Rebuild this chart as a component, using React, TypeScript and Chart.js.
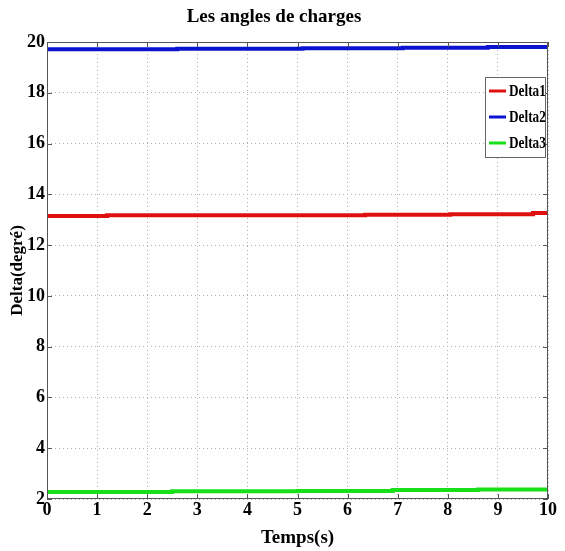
import React, { useEffect, useRef } from "react";
import { Chart, registerables } from "chart.js";

Chart.register(...registerables);

const chartTitle = "Les angles de charges";
const xTitle = "Temps(s)";
const yTitle = "Delta(degré)";
const yTicks = [2, 4, 6, 8, 10, 12, 14, 16, 18, 20];

const delta1Time = [0, 1.2, 6.35, 8.05, 9.7, 10];
const delta1Values = [13.15, 13.18, 13.2, 13.22, 13.26, 13.26];
const delta2Time = [0, 2.6, 5.1, 7.1, 8.8, 10];
const delta2Values = [19.71, 19.73, 19.75, 19.77, 19.8, 19.8];
const delta3Time = [0, 2.5, 5.0, 6.9, 8.6, 10];
const delta3Values = [2.28, 2.31, 2.32, 2.35, 2.37, 2.37];

const seriesNames = ["Delta1", "Delta2", "Delta3"];
const seriesColors = ["#e01010", "#0a14d0", "#18e018"];

const FONT = "'Liberation Serif', 'Times New Roman', serif";

const frame = {
  id: "frame",
  afterDraw(chart: any) {
    const { ctx, chartArea } = chart;
    const { left, right, top, bottom } = chartArea;
    ctx.save();
    ctx.strokeStyle = "#555";
    ctx.lineWidth = 1;
    ctx.strokeRect(left + 0.5, top + 0.5, right - left - 1, bottom - top - 1);
    const xs = chart.scales.x;
    const ys = chart.scales.y;
    ctx.beginPath();
    for (let t = 0; t <= 10; t++) {
      const px = Math.round(xs.getPixelForValue(t)) + 0.5;
      ctx.moveTo(px, bottom);
      ctx.lineTo(px, bottom - 5);
      ctx.moveTo(px, top);
      ctx.lineTo(px, top + 5);
    }
    for (const v of yTicks) {
      const py = Math.round(ys.getPixelForValue(v)) + 0.5;
      ctx.moveTo(left, py);
      ctx.lineTo(left + 5, py);
      ctx.moveTo(right, py);
      ctx.lineTo(right - 5, py);
    }
    ctx.stroke();

    // legend box
    const bx = 485, by = 77, bw = 60, bh = 80;
    ctx.fillStyle = "#fff";
    ctx.fillRect(bx, by, bw, bh);
    ctx.strokeStyle = "#666";
    ctx.strokeRect(bx + 0.5, by + 0.5, bw, bh);
    const ds = chart.data.datasets;
    ctx.font = `bold 17px ${FONT}`;
    ctx.textBaseline = "middle";
    ctx.textAlign = "left";
    ds.forEach((d: any, i: number) => {
      const y = by + 14 + i * 26;
      ctx.strokeStyle = d.borderColor;
      ctx.lineWidth = 3;
      ctx.beginPath();
      ctx.moveTo(bx + 4, y);
      ctx.lineTo(bx + 21, y);
      ctx.stroke();
      ctx.fillStyle = "#000";
      ctx.save();
      ctx.translate(bx + 24, y + 1);
      ctx.scale(0.78, 1);
      ctx.fillText(d.label, 0, 0);
      ctx.restore();
    });
    ctx.restore();
  },
};

export default function App() {
  const ref = useRef<HTMLCanvasElement>(null);
  useEffect(() => {
    document.body.style.margin = "0";
    const toPts = (t: number[], v: number[]) => t.map((x, i) => ({ x, y: v[i] }));
    const chart = new Chart(ref.current!, {
      type: "line",
      data: {
        datasets: [
          { label: seriesNames[0], data: toPts(delta1Time, delta1Values), borderColor: seriesColors[0], backgroundColor: seriesColors[0], borderWidth: 4, pointRadius: 0, stepped: true },
          { label: seriesNames[1], data: toPts(delta2Time, delta2Values), borderColor: seriesColors[1], backgroundColor: seriesColors[1], borderWidth: 4, pointRadius: 0, stepped: true },
          { label: seriesNames[2], data: toPts(delta3Time, delta3Values), borderColor: seriesColors[2], backgroundColor: seriesColors[2], borderWidth: 4, pointRadius: 0, stepped: true },
        ],
      },
      options: {
        animation: false,
        responsive: false,
        devicePixelRatio: 1,
        layout: { padding: { left: 0, right: 17, top: 0, bottom: 0 } },
        plugins: {
          legend: { display: false },
          tooltip: { enabled: false },
          title: {
            display: true,
            text: chartTitle,
            color: "#000",
            font: { family: FONT, size: 19, weight: "bold" },
            padding: { top: 6, bottom: 13.2 },
          },
        },
        scales: {
          x: {
            type: "linear",
            min: 0,
            max: 10,
            afterFit: (s: any) => { s.height = 52; },
            ticks: { stepSize: 1, color: "#000", padding: 1, font: { family: FONT, size: 18, weight: "bold" } },
            grid: { color: "#b0b0b0", drawTicks: false },
            border: { display: false, dash: [1, 3] },
            title: { display: true, text: xTitle, color: "#000", font: { family: FONT, size: 19, weight: "bold" }, padding: { top: 0, bottom: 2 } },
          },
          y: {
            min: 2,
            max: 20,
            afterFit: (s: any) => { s.width = 47; },
            afterBuildTicks: (s: any) => { s.ticks = yTicks.map((v) => ({ value: v })); },
            ticks: { color: "#000", padding: 2, font: { family: FONT, size: 18, weight: "bold" } },
            grid: { color: "#b0b0b0", drawTicks: false },
            border: { display: false, dash: [1, 3] },
            title: { display: true, text: yTitle, color: "#000", font: { family: FONT, size: 17, weight: "bold" }, padding: { top: 7, bottom: 0 } },
          },
        },
      },
      plugins: [frame],
    });
    return () => chart.destroy();
  }, []);
  return (
    <div style={{ width: 565, height: 551, background: "#fff" }}>
      <canvas ref={ref} width={565} height={551} />
    </div>
  );
}
